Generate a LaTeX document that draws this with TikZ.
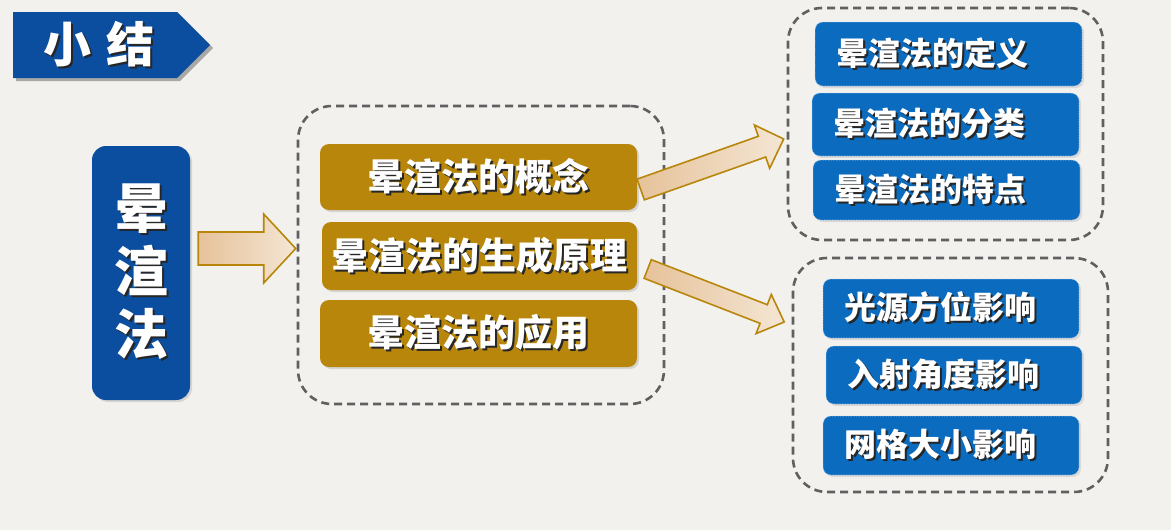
\documentclass[tikz,border=0pt]{standalone}
\usepackage{fontspec}
\newfontfamily\cjk{Noto Sans CJK SC}
\usetikzlibrary{calc,shadows}
\definecolor{bgc}{HTML}{F2F1EE}
\definecolor{navy}{HTML}{0B4D9F}
\definecolor{gold}{HTML}{B8860B}
\definecolor{skyb}{HTML}{0A6BBF}
\definecolor{dashg}{HTML}{606060}
\definecolor{arrA}{HTML}{E6C29A}
\definecolor{arrB}{HTML}{F4E6D4}
\newcommand\shd[1]{\rlap{\kern2pt\raisebox{-2pt}{\textcolor{black!85}{#1}}}#1}
% block arrow: #1 tail, #2 tip, #3 shaft half width, #4 head half width, #5 head length
\newcommand\blockarr[5]{%
  \coordinate (hh) at ($(#2)!#5!(#1)$);
  \draw[barrow] ($(#1)!#3!90:(#2)$) -- ($(hh)!#3!-90:(#1)$) -- ($(hh)!#4!-90:(#1)$) -- (#2)
    -- ($(hh)!#4!90:(#1)$) -- ($(hh)!#3!90:(#1)$) -- ($(#1)!#3!-90:(#2)$) -- cycle;}
\tikzset{
  barrow/.style={draw=gold, line width=1.6pt, line join=miter, left color=arrA, right color=arrB},
  container/.style={draw=dashg, line width=2.6pt, dash pattern=on 8pt off 5pt, rounded corners=34pt},
  goldbox/.style={fill=gold, rounded corners=9pt, text=white, font=\cjk\bfseries\fontsize{37}{40}\selectfont,
    drop shadow={shadow xshift=2pt, shadow yshift=-2pt, opacity=0.25}},
  bluebox/.style={fill=skyb, draw=white!75!skyb, densely dotted, line width=0.6pt, rounded corners=8pt, text=white,
    font=\cjk\bfseries\fontsize{32}{36}\selectfont, align=left, inner xsep=21pt,
    drop shadow={shadow xshift=2pt, shadow yshift=-2pt, opacity=0.2}},
}
\begin{document}
\begin{tikzpicture}[x=1pt,y=-1pt]
\useasboundingbox (0,0) rectangle (1171,530);
\fill[bgc] (0,0) rectangle (1171,530);
% title
\fill[black,opacity=0.3] (16,15) -- (180,15) -- (213,48) -- (180,81) -- (16,81) -- cycle;
\fill[navy] (13,12) -- (177,12) -- (210,45) -- (177,78) -- (13,78) -- cycle;
\node[text=white, font=\cjk\bfseries\fontsize{48}{50}\selectfont] (title) at (99,45) {\shd{小\hspace{0.32em}结}};
% left node
\node[fill=navy, rounded corners=14pt, minimum width=98pt, minimum height=254pt, text=white, align=center,
  font=\cjk\bfseries\fontsize{54}{63}\selectfont, drop shadow={shadow xshift=2pt, shadow yshift=-2pt, opacity=0.25}]
  (main) at (141,273) {\shd{晕}\\\shd{渲}\\\shd{法}};
% middle container
\node[container, minimum width=366pt, minimum height=298pt] (mid) at (481,255) {};
\node[goldbox, minimum width=317pt, minimum height=66pt] (g1) at (478.5,177) {\shd{晕渲法的概念}};
\node[goldbox, minimum width=315pt, minimum height=68pt] (g2) at (479.5,256) {\shd{晕渲法的生成原理}};
\node[goldbox, minimum width=317pt, minimum height=67pt] (g3) at (478.5,333.5) {\shd{晕渲法的应用}};
% right upper container
\node[container, minimum width=315pt, minimum height=232pt] (r1) at (945.5,124) {};
\node[bluebox, text width=225pt, minimum height=64pt] (b1) at (948.5,54) {\shd{晕渲法的定义}};
\node[bluebox, text width=225pt, minimum height=63pt] (b2) at (945.5,124.5) {\shd{晕渲法的分类}};
\node[bluebox, text width=225pt, minimum height=60pt] (b3) at (946.5,190) {\shd{晕渲法的特点}};
% right lower container
\node[container, minimum width=315pt, minimum height=234pt] (r2) at (950.5,375) {};
\node[bluebox, text width=214pt, minimum height=59pt] (c1) at (951,308.5) {\shd{光源方位影响}};
\node[bluebox, text width=214pt, minimum height=58pt] (c2) at (954,375) {\shd{入射角度影响}};
\node[bluebox, text width=214pt, minimum height=59pt] (c3) at (951,445.5) {\shd{网格大小影响}};
% arrows
\coordinate (a1t) at ($(main.east)+(8,-24.5)$);
\coordinate (a1h) at ($(mid.west)+(-1,-6.5)$);
\blockarr{a1t}{a1h}{16.5pt}{34.5pt}{32pt}
\coordinate (a2t) at ($(g1.east)+(3.5,12.5)$);
\coordinate (a2h) at ($(r1.west)+(-3,15)$);
\blockarr{a2t}{a2h}{11pt}{23pt}{23pt}
\coordinate (a3t) at ($(g2.east)+(10.5,13)$);
\coordinate (a3h) at ($(r2.west)+(-7.5,-53)$);
\blockarr{a3t}{a3h}{10pt}{21pt}{22pt}
\end{tikzpicture}
\end{document}
